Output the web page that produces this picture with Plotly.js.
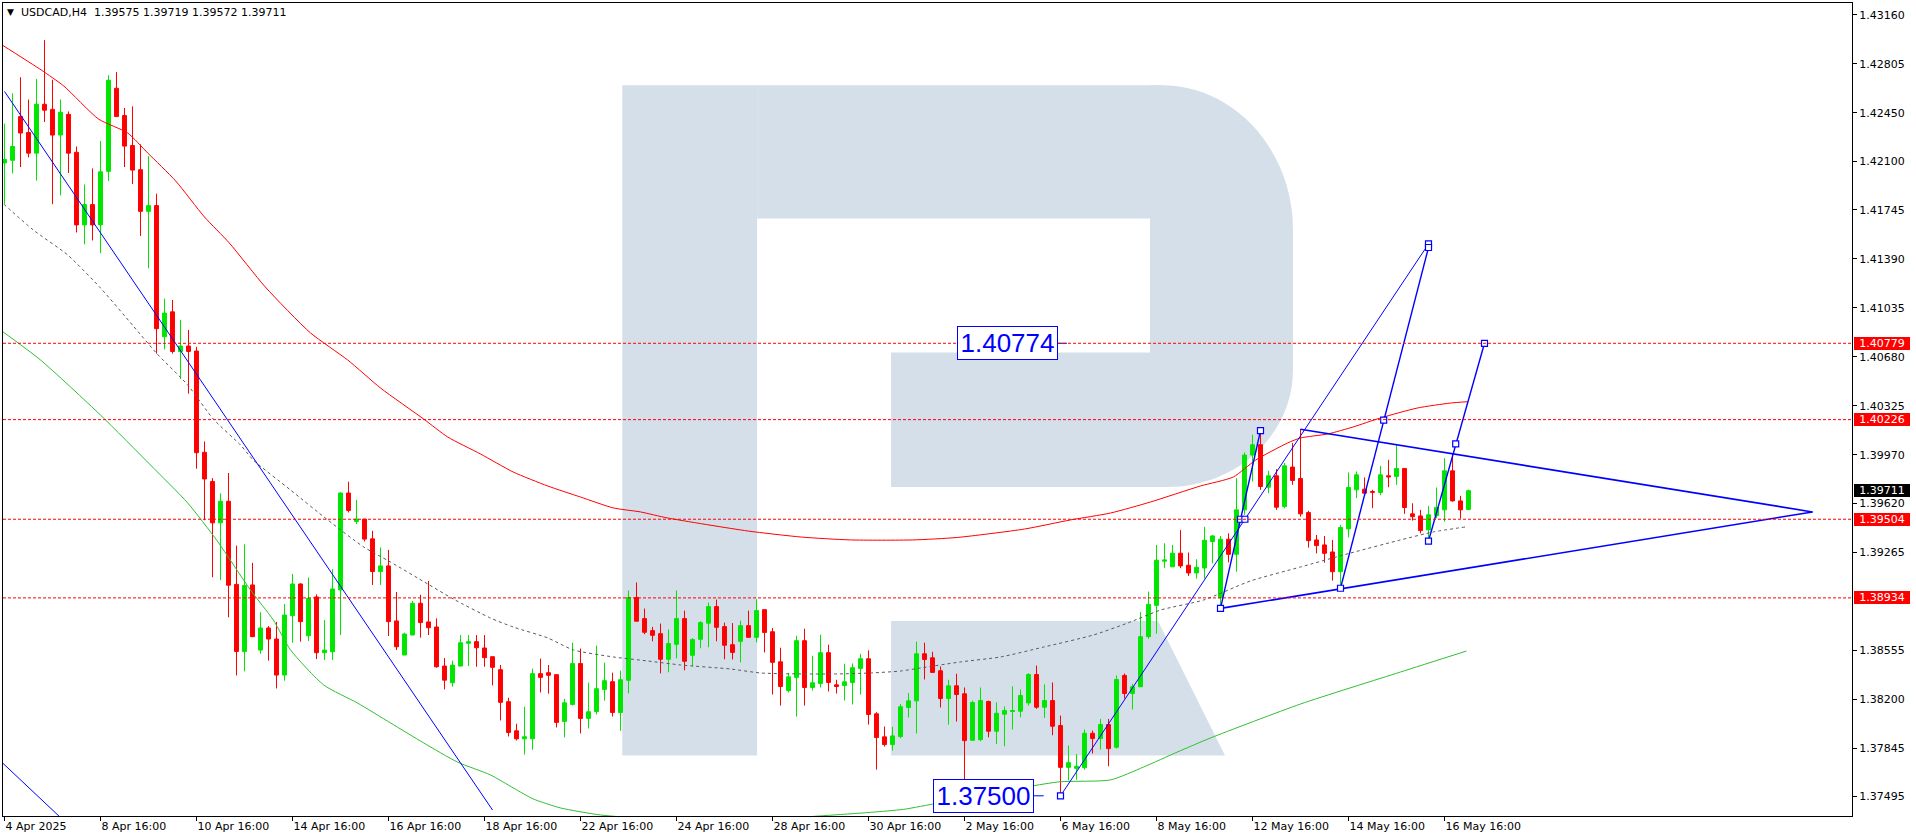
<!DOCTYPE html>
<html><head><meta charset="utf-8">
<script src="https://cdn.plot.ly/plotly-3.0.1.min.js"></script>
<style>html,body{margin:0;padding:0;background:#fff;overflow:hidden}#chart{width:1916px;height:840px}</style>
</head><body><div id="chart"></div>
<script>
// ---- candle data (USDCAD H4), index 0..183 ----
const candleOpen = [1.42086,1.42105,1.42422,1.42306,1.42157,1.42511,1.42474,1.42288,1.42438,1.42163,1.41637,1.41784,1.41637,1.42025,1.42627,1.42429,1.42212,1.42037,1.41735,1.41777,1.40827,1.41007,1.40720,1.40759,1.40723,1.39989,1.39778,1.39478,1.39634,1.39032,1.38546,1.39028,1.38556,1.38716,1.38636,1.38375,1.38805,1.39035,1.38660,1.38941,1.38537,1.38544,1.38992,1.39694,1.39488,1.39505,1.39362,1.39125,1.39166,1.38767,1.38520,1.38665,1.38895,1.38760,1.38723,1.38440,1.38319,1.38440,1.38605,1.38617,1.38571,1.38508,1.38414,1.38182,1.37971,1.37913,1.37913,1.38385,1.38392,1.38378,1.38039,1.38162,1.38458,1.38061,1.38111,1.38271,1.38327,1.38104,1.38337,1.38937,1.38784,1.38697,1.38675,1.38489,1.38598,1.38784,1.38518,1.38634,1.38751,1.38871,1.38726,1.38595,1.38619,1.38733,1.38648,1.38849,1.38689,1.38471,1.38263,1.38358,1.38624,1.38285,1.38314,1.38537,1.38304,1.38299,1.38321,1.38423,1.38493,1.38094,1.37927,1.37871,1.37929,1.38140,1.38188,1.38529,1.38500,1.38406,1.38205,1.38297,1.38239,1.37902,1.37907,1.38183,1.37968,1.38091,1.38111,1.38113,1.38173,1.38379,1.38142,1.38190,1.38009,1.37706,1.37699,1.37704,1.37953,1.37915,1.38016,1.37852,1.38372,1.38241,1.38290,1.38653,1.38880,1.39200,1.39159,1.39258,1.39171,1.39115,1.39151,1.39342,1.38935,1.39359,1.39250,1.39572,1.39969,1.40044,1.39736,1.39819,1.39596,1.39882,1.39799,1.39552,1.39354,1.39318,1.39267,1.39124,1.39434,1.39717,1.39722,1.39705,1.39698,1.39819,1.39814,1.39872,1.39543,1.39528,1.39427,1.39531,1.39572,1.39855,1.39637,1.39575];
const candleHigh = [1.42371,1.42591,1.42707,1.42545,1.42695,1.42976,1.42689,1.42545,1.42459,1.42205,1.41930,1.42046,1.42245,1.42722,1.42744,1.42484,1.42496,1.42221,1.42135,1.41863,1.41102,1.41093,1.40949,1.40876,1.40753,1.40068,1.39802,1.39692,1.39839,1.39313,1.39322,1.39188,1.38830,1.38730,1.38759,1.38890,1.39108,1.39040,1.39081,1.38960,1.38774,1.39142,1.39700,1.39776,1.39645,1.39505,1.39420,1.39299,1.39282,1.38977,1.38682,1.38912,1.38956,1.39057,1.38786,1.38498,1.38479,1.38665,1.38665,1.38665,1.38665,1.38508,1.38448,1.38211,1.38022,1.38145,1.38421,1.38494,1.38448,1.38378,1.38203,1.38610,1.38567,1.38320,1.38588,1.38465,1.38392,1.38407,1.38988,1.39046,1.38857,1.38724,1.38748,1.38705,1.38988,1.38842,1.38642,1.38765,1.38901,1.38922,1.38755,1.38752,1.38769,1.38842,1.38924,1.38849,1.38716,1.38573,1.38391,1.38660,1.38711,1.38515,1.38667,1.38595,1.38341,1.38457,1.38459,1.38529,1.38554,1.38106,1.38002,1.38000,1.38166,1.38244,1.38617,1.38609,1.38544,1.38437,1.38341,1.38384,1.38285,1.38190,1.38285,1.38190,1.38178,1.38147,1.38294,1.38270,1.38389,1.38444,1.38307,1.38321,1.38081,1.37864,1.37803,1.37980,1.37973,1.38057,1.38057,1.38372,1.38386,1.38311,1.38832,1.38980,1.39318,1.39330,1.39318,1.39425,1.39263,1.39214,1.39449,1.39390,1.39383,1.39402,1.39802,1.39988,1.40116,1.40146,1.39855,1.39867,1.39912,1.40056,1.40158,1.39565,1.39390,1.39383,1.39354,1.39463,1.39843,1.39850,1.39807,1.39717,1.39891,1.39935,1.40044,1.39872,1.39620,1.39572,1.39601,1.39734,1.39947,1.39983,1.39674,1.39719];
const candleLow = [1.41790,1.42010,1.42056,1.42126,1.41958,1.42383,1.41787,1.41851,1.42013,1.41582,1.41496,1.41524,1.41432,1.41955,1.42422,1.42056,1.41933,1.41557,1.41322,1.40704,1.40735,1.40704,1.40521,1.40414,1.39870,1.39497,1.39084,1.39063,1.38794,1.38372,1.38402,1.38650,1.38530,1.38479,1.38278,1.38334,1.38609,1.38617,1.38621,1.38491,1.38484,1.38484,1.38665,1.39553,1.39469,1.39343,1.39028,1.39028,1.38658,1.38556,1.38520,1.38665,1.38646,1.38665,1.38428,1.38271,1.38290,1.38440,1.38440,1.38435,1.38435,1.38300,1.38046,1.37930,1.37901,1.37799,1.37833,1.38249,1.38240,1.37995,1.37923,1.38155,1.37952,1.37988,1.38090,1.38189,1.38075,1.37971,1.38242,1.38765,1.38671,1.38620,1.38387,1.38395,1.38496,1.38409,1.38438,1.38569,1.38576,1.38620,1.38489,1.38488,1.38467,1.38648,1.38612,1.38539,1.38234,1.38154,1.38249,1.38074,1.38154,1.38263,1.38285,1.38256,1.38241,1.38191,1.38162,1.38234,1.38016,1.37690,1.37857,1.37828,1.37917,1.38067,1.37951,1.38343,1.38394,1.38140,1.38016,1.38038,1.37600,1.37902,1.37895,1.37924,1.37876,1.37859,1.37980,1.38069,1.38154,1.38130,1.38064,1.37939,1.37500,1.37612,1.37617,1.37689,1.37806,1.37835,1.37714,1.37842,1.38205,1.38125,1.38290,1.38638,1.38674,1.39151,1.39159,1.39149,1.39093,1.39074,1.39074,1.39185,1.38858,1.39192,1.39124,1.39536,1.39778,1.39717,1.39693,1.39572,1.39584,1.39753,1.39523,1.39298,1.39257,1.39189,1.39059,1.39003,1.39373,1.39657,1.39693,1.39584,1.39678,1.39736,1.39753,1.39543,1.39494,1.39402,1.39347,1.39511,1.39487,1.39632,1.39509,1.39572];
const candleClose = [1.42111,1.42205,1.42303,1.42157,1.42511,1.42468,1.42288,1.42453,1.42157,1.41637,1.41784,1.41637,1.42022,1.42685,1.42422,1.42208,1.42034,1.41735,1.41777,1.40885,1.40998,1.40720,1.40759,1.40720,1.39986,1.39796,1.39478,1.39634,1.39026,1.38546,1.39023,1.38653,1.38716,1.38636,1.38375,1.38810,1.39035,1.38762,1.38931,1.38537,1.38556,1.38999,1.39694,1.39568,1.39505,1.39360,1.39125,1.39166,1.38762,1.38580,1.38672,1.38895,1.38755,1.38718,1.38435,1.38338,1.38447,1.38609,1.38617,1.38573,1.38501,1.38431,1.38177,1.37959,1.37913,1.37928,1.38385,1.38358,1.38373,1.38032,1.38174,1.38458,1.38061,1.38109,1.38276,1.38334,1.38104,1.38341,1.38937,1.38765,1.38685,1.38663,1.38489,1.38603,1.38784,1.38475,1.38632,1.38755,1.38871,1.38721,1.38591,1.38539,1.38733,1.38648,1.38842,1.38684,1.38467,1.38292,1.38362,1.38624,1.38285,1.38319,1.38537,1.38321,1.38292,1.38326,1.38428,1.38493,1.38089,1.37922,1.37871,1.37934,1.38145,1.38188,1.38529,1.38488,1.38394,1.38205,1.38297,1.38234,1.37900,1.38176,1.38190,1.37968,1.38098,1.38118,1.38118,1.38227,1.38379,1.38142,1.38190,1.38004,1.37706,1.37740,1.37714,1.37953,1.37915,1.38016,1.37842,1.38343,1.38241,1.38290,1.38653,1.38887,1.39207,1.39209,1.39258,1.39166,1.39115,1.39156,1.39352,1.39383,1.39359,1.39250,1.39572,1.39969,1.40044,1.39741,1.39819,1.39591,1.39891,1.39785,1.39543,1.39349,1.39313,1.39257,1.39124,1.39444,1.39734,1.39826,1.39693,1.39700,1.39826,1.39811,1.39872,1.39589,1.39523,1.39422,1.39536,1.39589,1.39855,1.39637,1.39572,1.39711];
const candleIndex = candleOpen.map((_, i) => i);

// ---- time axis labels ----
const timeTickIndex = [0,12,24,36,48,60,72,84,96,108,120,132,144,156,168,180];
const timeTickText = ['4 Apr 2025','8 Apr 16:00','10 Apr 16:00','14 Apr 16:00','16 Apr 16:00','18 Apr 16:00','22 Apr 16:00','24 Apr 16:00','28 Apr 16:00','30 Apr 16:00','2 May 16:00','6 May 16:00','8 May 16:00','12 May 16:00','14 May 16:00','16 May 16:00'];

// ---- price axis labels ----
const priceTicks = [1.43160,1.42805,1.42450,1.42100,1.41745,1.41390,1.41035,1.40680,1.40325,1.39970,1.39620,1.39265,1.38555,1.38200,1.37845,1.37495];

// ---- indicator lines (index, price) ----
const redMaIdx = [-0.5,4.6,7.4,11.75,15.4,17.9,21.4,25,28.1,32.6,38.25,42.9,47,52.4,55.4,59.5,63.6,67.9,72,76.1,79.5,82.9,92.9,99.6,105.75,113.5,119.1,127.5,133.25,138.25,143.25,149.5,153.6,156.4,160.4,162,165.4,168.6,172,176.6,180.75,182.9];
const redMaVal = [1.42948,1.42759,1.42644,1.42404,1.42303,1.42158,1.41955,1.41694,1.41506,1.41187,1.40854,1.40658,1.40455,1.40230,1.40100,1.39977,1.39846,1.39745,1.39665,1.39586,1.39557,1.39513,1.39419,1.39375,1.39354,1.39354,1.39372,1.39433,1.39499,1.39549,1.39629,1.39745,1.39810,1.39933,1.40057,1.40093,1.40122,1.40173,1.40238,1.40310,1.40346,1.40356];
const greenMaIdx = [-0.5,4.5,12,18.25,22.9,26.6,30.75,33.6,35.75,39.9,44.1,48.25,52.4,56.6,60.75,63.6,66.1,69.5,74.5,80.75,87,94.5,102.4,108.25,112.4,116.6,120.75,127.9,132,138.25,142.4,146.6,150.75,162,174.5,182.75];
const greenMaVal = [1.40875,1.40658,1.40259,1.39897,1.39622,1.39346,1.38991,1.38774,1.38557,1.38303,1.38173,1.38028,1.37883,1.37745,1.37651,1.37557,1.37477,1.37412,1.37361,1.37332,1.37317,1.37325,1.37356,1.37380,1.37402,1.37446,1.37486,1.37566,1.37602,1.37615,1.37709,1.37817,1.37919,1.38165,1.38397,1.38549];
const grayMaIdx = [-0.1,3.6,7.9,12,16.1,19.1,22.9,26.1,29.5,31.1,35.75,40.4,44.9,48.25,52.9,56.1,60.75,63.6,67.9,71.1,76.1,80.4,84.5,90.75,94.5,99.9,104.1,108.25,112,114.5,119.5,124.5,129.9,136.1,140.4,144.5,149.9,155.75,162,168.25,174.5,178.6,182.6];
const grayMaVal = [1.41788,1.41600,1.41419,1.41180,1.40904,1.40701,1.40477,1.40230,1.40042,1.39933,1.39716,1.39499,1.39303,1.39194,1.39035,1.38926,1.38788,1.38723,1.38644,1.38557,1.38506,1.38477,1.38448,1.38419,1.38390,1.38383,1.38383,1.38390,1.38404,1.38426,1.38470,1.38506,1.38578,1.38665,1.38752,1.38846,1.38919,1.39057,1.39158,1.39259,1.39354,1.39412,1.39448];

// ---- drawn analysis objects (index, price) ----
const thinLineIdx = [0,61,null,-0.5,8,null,132,178];
const thinLineVal = [1.42604,1.37397,null,1.37752,1.37288,null,1.37500,1.41499];
const zigLineIdx = [152,157,null,167,178,null,178,185];
const zigLineVal = [1.38858,1.40146,null,1.39004,1.41473,null,1.39346,1.40779];
const triLineIdx = [162,226,null,152,226];
const triLineVal = [1.40156,1.39557,null,1.38858,1.39557];
const anchorIdx = [132,152,157,154.5,155.05,178,178,167,172.4,178,181.4,185];
const anchorVal = [1.37500,1.38858,1.40146,1.39504,1.39504,1.41499,1.41473,1.39004,1.40222,1.39346,1.40050,1.40779];
const tagText = ['1.40774','1.37500'];
const tagIdx = [131.7,128.66];
const tagVal = [1.40779,1.37500];
const tagStubIdx = [131.7,132.8,null,128.66,129.9];
const tagStubVal = [1.40779,1.40779,null,1.37500,1.37500];

// ---- horizontal levels ----
const levelPrices = [1.40779,1.40226,1.39504,1.38934];
const lastPrice = 1.39711;
const headerText = 'USDCAD,H4  1.39575 1.39719 1.39572 1.39711';

const BLUE = '#0000ff';
const traces = [
  {type:'candlestick', x:candleIndex, open:candleOpen, high:candleHigh, low:candleLow, close:candleClose,
   increasing:{line:{color:'#00e600',width:1}, fillcolor:'#00e600'},
   decreasing:{line:{color:'#ff0000',width:1}, fillcolor:'#ff0000'},
   whiskerwidth:0, hoverinfo:'skip', showlegend:false},
  {type:'scatter', mode:'lines', x:redMaIdx, y:redMaVal, line:{color:'#ff0000',width:1,shape:'spline',smoothing:0.6}, hoverinfo:'skip'},
  {type:'scatter', mode:'lines', x:greenMaIdx, y:greenMaVal, line:{color:'#30c030',width:1,shape:'spline',smoothing:0.6}, hoverinfo:'skip'},
  {type:'scatter', mode:'lines', x:grayMaIdx, y:grayMaVal, line:{color:'#5a5a5a',width:1,dash:'3px,3px',shape:'spline',smoothing:0.6}, hoverinfo:'skip'},
  {type:'scatter', mode:'lines', x:thinLineIdx, y:thinLineVal, line:{color:BLUE,width:1}, connectgaps:false, hoverinfo:'skip'},
  {type:'scatter', mode:'lines', x:zigLineIdx, y:zigLineVal, line:{color:BLUE,width:1.4}, connectgaps:false, hoverinfo:'skip'},
  {type:'scatter', mode:'lines', x:triLineIdx, y:triLineVal, line:{color:BLUE,width:1.6}, connectgaps:false, hoverinfo:'skip'},
  {type:'scatter', mode:'lines', x:tagStubIdx, y:tagStubVal, line:{color:BLUE,width:1}, connectgaps:false, hoverinfo:'skip'},
  {type:'scatter', mode:'markers', x:anchorIdx, y:anchorVal, marker:{symbol:'square',size:6,color:'#ffffff',line:{color:BLUE,width:1.2}}, hoverinfo:'skip'}
];

// watermark logo (paper coords of the plot area)
const WM = '#d5dfea';
const shapes = [
  {type:'rect', xref:'paper', yref:'paper', x0:0.33494, x1:0.40784, y0:0.07429, y1:0.89877, fillcolor:WM, line:{width:0}, layer:'below'},
  {type:'rect', xref:'paper', yref:'paper', x0:0.40784, x1:0.62683, y0:0.73506, y1:0.89877, fillcolor:WM, line:{width:0}, layer:'below'},
  {type:'rect', xref:'paper', yref:'paper', x0:0.48031, x1:0.62953, y0:0.40467, y1:0.57011, fillcolor:WM, line:{width:0}, layer:'below'},
  {type:'path', xref:'paper', yref:'paper', path:'M0.62034,0.89877 L0.62683,0.89877 C0.66577,0.89877 0.69767,0.81919 0.69767,0.72079 L0.69767,0.54859 C0.69767,0.46863 0.66685,0.40467 0.62953,0.40467 L0.62034,0.40467 Z', fillcolor:WM, line:{width:0}, layer:'below'},
  {type:'path', xref:'paper', yref:'paper', path:'M0.48031,0.23973 L0.62466,0.23973 L0.66090,0.07429 L0.48031,0.07429 Z', fillcolor:WM, line:{width:0}, layer:'below'}
];
levelPrices.forEach(p => shapes.push({type:'line', xref:'paper', x0:0, x1:1, yref:'y', y0:p, y1:p, line:{color:'#ff0000',width:1,dash:'3px,2px'}, layer:'above'}));

const annotations = [
  {xref:'paper', yref:'paper', x:0.0038, y:0.9885, xanchor:'center', yanchor:'middle', text:'\u25BC', showarrow:false, font:{family:'DejaVu Sans', size:9, color:'#000'}},
  {xref:'paper', yref:'paper', x:0.0087, y:0.9881, xanchor:'left', yanchor:'middle', text:headerText.replace(/ /g,'\u00a0'), showarrow:false, font:{family:'DejaVu Sans', size:11, color:'#000'}}
];
levelPrices.forEach(p => annotations.push({xref:'paper', x:1, xanchor:'left', xshift:2, yref:'y', y:p, yanchor:'middle', text:p.toFixed(5), showarrow:false, bgcolor:'#ff0000', font:{family:'DejaVu Sans', size:11, color:'#ffffff'}, width:56, height:13, borderpad:0, borderwidth:0, align:'center'}));
annotations.push({xref:'paper', x:1, xanchor:'left', xshift:2, yref:'y', y:lastPrice, yanchor:'middle', text:lastPrice.toFixed(5), showarrow:false, bgcolor:'#000000', font:{family:'DejaVu Sans', size:11, color:'#ffffff'}, width:56, height:13, borderpad:0, borderwidth:0, align:'center'});
tagText.forEach((t, i) => annotations.push({xref:'x', yref:'y', x:tagIdx[i], y:tagVal[i], xanchor:'right', yanchor:'middle', text:t, showarrow:false, bgcolor:'#ffffff', bordercolor:BLUE, borderwidth:1, borderpad:1, width:97, height:30, font:{family:'Liberation Sans', size:26, color:BLUE}}));

const layout = {
  width:1916, height:840,
  margin:{l:3, r:64, t:3, b:24, pad:0},
  paper_bgcolor:'#ffffff', plot_bgcolor:'#ffffff',
  showlegend:false,
  font:{family:'DejaVu Sans', size:11, color:'#000000'},
  boxgap:0.3, boxgroupgap:0.3,
  xaxis:{type:'linear', range:[-0.1875, 230.9375], showgrid:false, zeroline:false,
    showline:true, linecolor:'#000000', linewidth:1, mirror:true,
    tickmode:'array', tickvals:timeTickIndex, ticktext:timeTickText,
    ticks:'outside', ticklen:4, tickcolor:'#000000', ticklabelposition:'outside right',
    tickfont:{family:'DejaVu Sans', size:11, color:'#000000'},
    rangeslider:{visible:false}, fixedrange:true, automargin:false},
  yaxis:{type:'linear', side:'right', range:[1.373536, 1.432449], showgrid:false, zeroline:false,
    showline:true, linecolor:'#000000', linewidth:1, mirror:true,
    tickmode:'array', tickvals:priceTicks, ticktext:priceTicks.map(v => v.toFixed(5)),
    ticks:'outside', ticklen:4, tickcolor:'#000000',
    tickfont:{family:'DejaVu Sans', size:11, color:'#000000'}, fixedrange:true, automargin:false},
  shapes:shapes,
  annotations:annotations
};
Plotly.newPlot('chart', traces, layout, {staticPlot:true, displayModeBar:false});
</script></body></html>
